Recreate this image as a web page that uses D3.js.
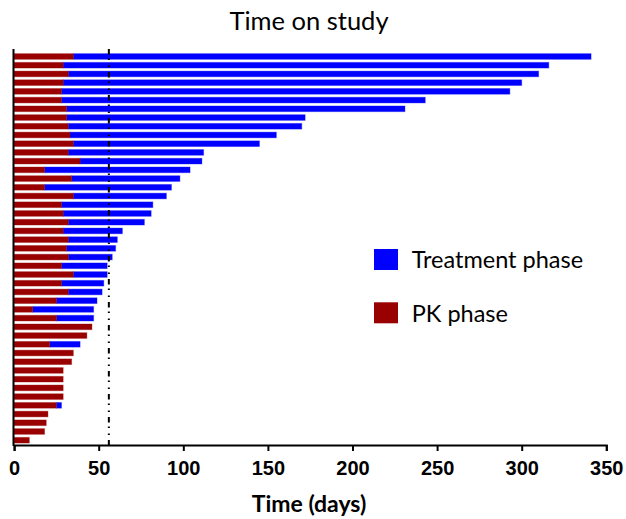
<!DOCTYPE html>
<html>
<head>
<meta charset="utf-8">
<script src="https://cdn.jsdelivr.net/npm/d3@7"></script>
<style>
  body { margin: 0; background: #fff; }
</style>
</head>
<body>
<div id="chart_div"></div>
<script>
// days spent in each phase, one entry per patient (top to bottom)
var totalDays = [341, 316, 310, 300, 293, 243, 231, 172, 170, 155, 145, 112, 111, 104, 98,
  93, 90, 82, 81, 77, 64, 61, 60, 58, 55, 55, 53, 52, 49, 47,
  47, 46, 43, 39, 35, 34, 29, 29, 29, 29, 28, 20, 19, 18, 9];
var pkDays = [35, 29, 32, 29, 28, 28, 31, 31, 32, 33, 35, 32, 39, 18, 34,
  18, 35, 28, 29, 32, 29, 32, 31, 32, 28, 35, 28, 32, 25, 11,
  25, 46, 43, 21, 35, 34, 29, 29, 29, 29, 25, 20, 19, 18, 9];
var xTicks = [0, 50, 100, 150, 200, 250, 300, 350];
var cutoffDay = 56;
var legendLabels = ["Treatment phase", "PK phase"];

var width = 626,
  height = 519;

var blue = "#0000ff",
  red = "#990000";

var svg = d3
  .select("#chart_div")
  .append("svg")
  .attr("width", width)
  .attr("height", height);

var patients = d3.range(totalDays.length);

// X axis
var x = d3.scaleLinear().domain([0, 350]).range([14.1, 606.3]);

// one row per patient
var y = d3
  .scaleBand()
  .domain(patients)
  .range([50.6, 446.1])
  .paddingInner(0.35)
  .paddingOuter(0.35);

var axisY = 445;

// treatment phase bars (drawn from the end of PK phase)
svg
  .selectAll(".treat")
  .data(patients)
  .enter()
  .append("rect")
  .attr("class", "treat")
  .attr("x", function(i) { return x(pkDays[i]); })
  .attr("y", function(i) { return y(i); })
  .attr("width", function(i) { return Math.max(0, x(totalDays[i]) - x(pkDays[i])); })
  .attr("height", y.bandwidth())
  .attr("fill", blue)
  .attr("stroke", blue)
  .attr("stroke-opacity", 0.35)
  .attr("stroke-width", 1);

// PK phase bars
svg
  .selectAll(".pk")
  .data(patients)
  .enter()
  .append("rect")
  .attr("class", "pk")
  .attr("x", x(0))
  .attr("y", function(i) { return y(i); })
  .attr("width", function(i) { return x(pkDays[i]) - x(0); })
  .attr("height", y.bandwidth())
  .attr("fill", red)
  .attr("stroke", red)
  .attr("stroke-opacity", 0.35)
  .attr("stroke-width", 1);

// cutoff line at 8 weeks
svg
  .append("line")
  .attr("x1", x(cutoffDay))
  .attr("x2", x(cutoffDay))
  .attr("y1", 49)
  .attr("y2", axisY)
  .attr("stroke", "#000")
  .attr("stroke-width", 2)
  .attr("stroke-dasharray", "5.5,4,1.5,5.5,1.5,5");

// x axis
var xAxis = svg
  .append("g")
  .attr("transform", "translate(0," + axisY + ")")
  .call(
    d3
      .axisBottom(x)
      .tickValues(xTicks)
      .tickSize(6)
      .tickPadding(10)
  );
xAxis.selectAll("path, line").attr("stroke", "#000").attr("stroke-width", 2);
xAxis
  .selectAll("text")
  .attr("fill", "#000")
  .style("font-family", "'Liberation Sans', Arial, sans-serif")
  .style("font-weight", "bold")
  .style("font-size", "20px");

// y axis (line only)
svg
  .append("line")
  .attr("x1", 13.5)
  .attr("x2", 13.5)
  .attr("y1", 49)
  .attr("y2", axisY + 1)
  .attr("stroke", "#000")
  .attr("stroke-width", 2);

// title
svg
  .append("text")
  .attr("x", 309)
  .attr("y", 29.5)
  .attr("text-anchor", "middle")
  .style("font-family", "Lato, sans-serif")
  .style("font-size", "25.5px")
  .attr("fill", "#000")
  .text("Time on study");

// x axis title
svg
  .append("text")
  .attr("x", 309)
  .attr("y", 512)
  .attr("text-anchor", "middle")
  .style("font-family", "Lato, sans-serif")
  .style("font-weight", "bold")
  .style("font-size", "23px")
  .attr("fill", "#000")
  .text("Time (days)");

// legend
var legend = svg
  .selectAll(".legend")
  .data(legendLabels)
  .enter()
  .append("g")
  .attr("class", "legend")
  .attr("transform", function(d, i) {
    return "translate(374," + (249 + i * 53.3) + ")";
  });

legend
  .append("rect")
  .attr("width", 24)
  .attr("height", 21)
  .attr("fill", function(d, i) { return i === 0 ? blue : red; });

legend
  .append("text")
  .attr("x", 37.7)
  .attr("y", 19.3)
  .style("font-family", "Lato, sans-serif")
  .style("font-size", "23.5px")
  .attr("fill", "#000")
  .text(function(d) { return d; });
</script>
</body>
</html>
